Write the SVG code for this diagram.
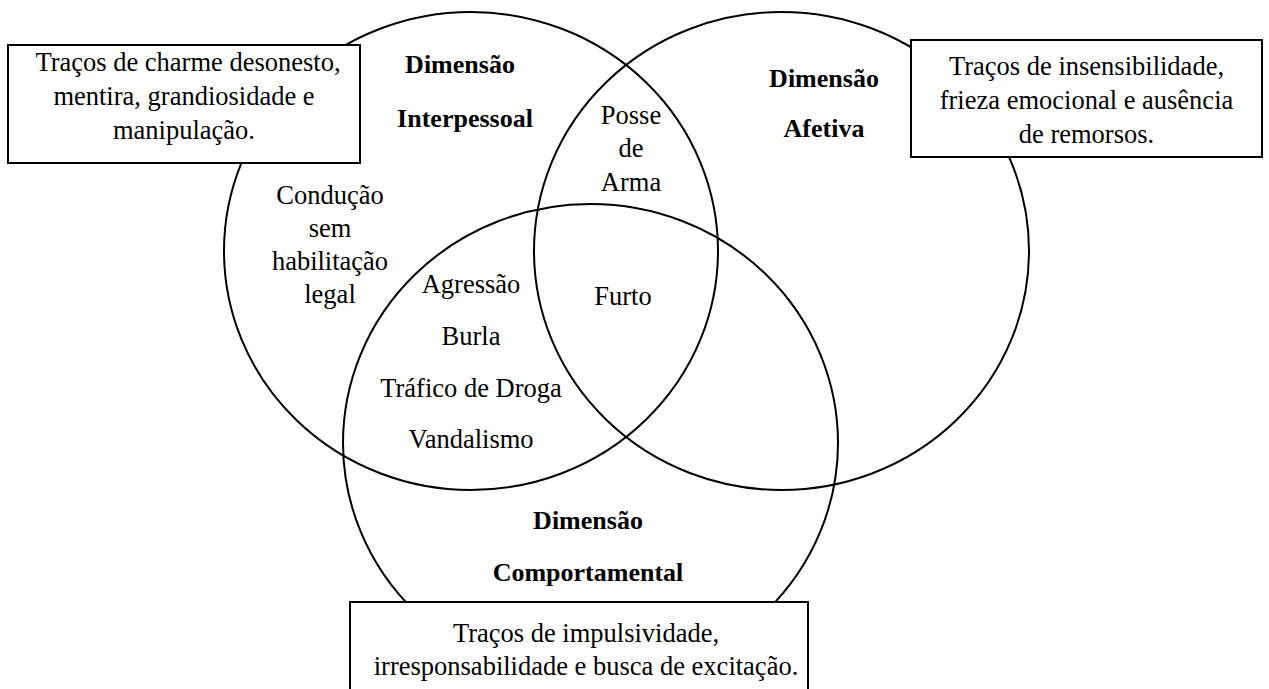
<svg xmlns="http://www.w3.org/2000/svg" width="1269" height="689" viewBox="0 0 1269 689">
<style>
.c{fill:none;stroke:#000;stroke-width:2}
.b{fill:#fff;stroke:#000;stroke-width:2}
text{font-family:"Liberation Serif","Times New Roman",serif;font-size:26.5px;fill:#000;text-anchor:middle}
.h{font-weight:bold;font-size:26px}
</style>
<rect width="1269" height="689" fill="#fff"/>
<g id="connectors">
<ellipse id="circle-interpessoal" class="c" cx="471" cy="251" rx="247" ry="239"/>
<ellipse id="circle-afetiva" class="c" cx="781.5" cy="251" rx="247.5" ry="239"/>
<ellipse id="circle-comportamental" class="c" cx="590.5" cy="443" rx="247.5" ry="239"/>
</g>
<g id="box-interpessoal">
<rect class="b" x="8" y="45" width="352" height="118"/>
<text x="188" y="71">Traços de charme desonesto,</text>
<text x="184" y="105">mentira, grandiosidade e</text>
<text x="184" y="139">manipulação.</text>
</g>
<g id="box-afetiva">
<rect class="b" x="911" y="40" width="351" height="117"/>
<text x="1086.5" y="75">Traços de insensibilidade,</text>
<text x="1086.5" y="109">frieza emocional e ausência</text>
<text x="1086.5" y="143">de remorsos.</text>
</g>
<g id="box-comportamental">
<rect class="b" x="350" y="602" width="458" height="100"/>
<text x="586" y="642">Traços de impulsividade,</text>
<text x="586" y="675">irresponsabilidade e busca de excitação.</text>
</g>
<g id="label-interpessoal">
<text class="h" x="460" y="73">Dimensão</text>
<text class="h" x="465" y="127">Interpessoal</text>
</g>
<g id="label-afetiva">
<text class="h" x="824" y="87">Dimensão</text>
<text class="h" x="824" y="137">Afetiva</text>
</g>
<g id="label-comportamental">
<text class="h" x="588" y="529">Dimensão</text>
<text class="h" x="588" y="581">Comportamental</text>
</g>
<g id="posse-de-arma">
<text x="631" y="124">Posse</text>
<text x="631" y="157">de</text>
<text x="631" y="191">Arma</text>
</g>
<g id="conducao">
<text x="330" y="204">Condução</text>
<text x="330" y="237">sem</text>
<text x="330" y="270">habilitação</text>
<text x="330" y="303">legal</text>
</g>
<g id="interpessoal-comportamental">
<text x="471" y="293">Agressão</text>
<text x="471" y="345">Burla</text>
<text x="471" y="397">Tráfico de Droga</text>
<text x="471" y="448">Vandalismo</text>
</g>
<g id="furto">
<text x="623" y="305">Furto</text>
</g>
</svg>
